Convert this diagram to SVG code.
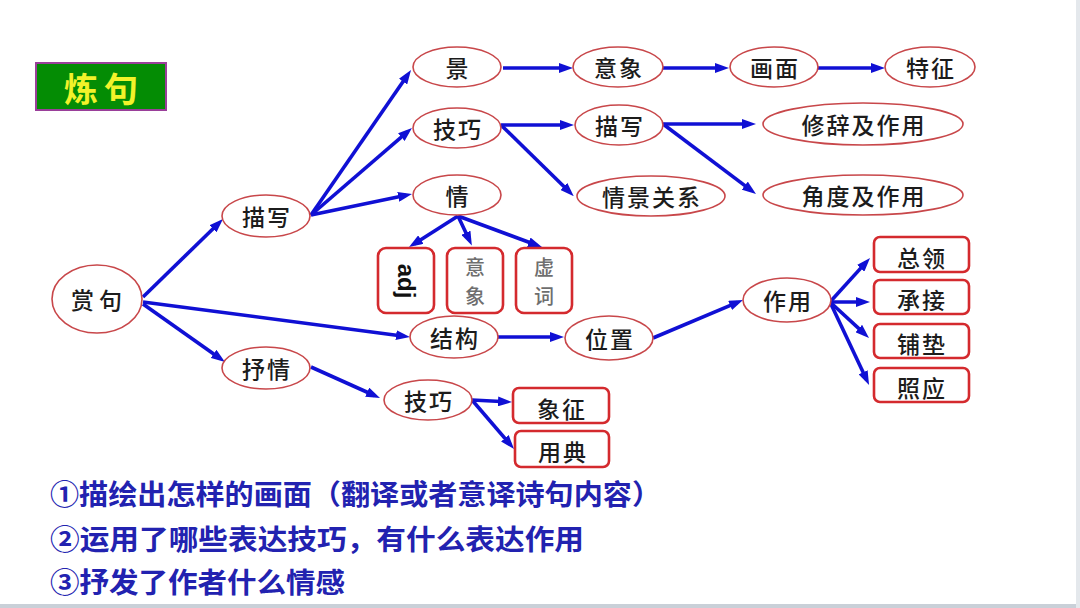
<svg xmlns="http://www.w3.org/2000/svg" width="1080" height="608" viewBox="0 0 1080 608">
<defs>
<marker id="ah" viewBox="0 0 14 10" refX="8" refY="5" markerWidth="14" markerHeight="10" markerUnits="userSpaceOnUse" orient="auto">
<path d="M0,0 L14,5 L0,10 z" fill="#1010d4"/>
</marker>
<style>
.e{fill:#fff;stroke:#c8474a;stroke-width:1.6}
.b{fill:#fff;stroke:#d42a2e;stroke-width:2.6}
.t{font-family:"Noto Sans CJK SC","Noto Sans",sans-serif;font-size:23px;fill:#1c1c1c;font-weight:500;letter-spacing:2px;text-anchor:middle;dominant-baseline:central}
.g{fill:#6e6e6e;letter-spacing:0;font-size:20px}
.c line{stroke:#1010d4;stroke-width:3.6;marker-end:url(#ah)}
.q{font-family:"Noto Sans CJK SC","Noto Sans",sans-serif;font-size:28px;font-weight:700;fill:#2222b0}
</style>
</defs>
<rect width="1080" height="608" fill="#fff"/>
<rect x="0" y="604" width="1080" height="4" fill="#c9d0d8"/>
<rect x="1076" y="0" width="4" height="608" fill="#e4e8ec"/>

<g id="title">
<rect x="36" y="63" width="130" height="47" fill="#048c04" stroke="#9a3f9a" stroke-width="2"/>
<text x="104" y="87" style="font-family:'Noto Sans CJK SC',sans-serif;font-size:34px;font-weight:700;fill:#f2f22a;letter-spacing:6px;text-anchor:middle;dominant-baseline:central">炼句</text>
</g>

<g class="c" id="connectors">
<line x1="143" y1="297" x2="218.7" y2="223.2"/>
<line x1="143" y1="302" x2="404" y2="336.2"/>
<line x1="143" y1="304" x2="220.1" y2="358.5"/>
<line x1="311" y1="215" x2="407.6" y2="75"/>
<line x1="311" y1="215" x2="407.4" y2="131.9"/>
<line x1="311" y1="215" x2="406.1" y2="195.2"/>
<line x1="503" y1="68" x2="567" y2="68"/>
<line x1="663" y1="68" x2="723" y2="68"/>
<line x1="818" y1="68" x2="879" y2="68"/>
<line x1="501" y1="125" x2="568" y2="125"/>
<line x1="501" y1="125" x2="569.5" y2="192"/>
<line x1="663" y1="124" x2="750" y2="124"/>
<line x1="663" y1="124" x2="751.2" y2="190.4"/>
<line x1="458" y1="216" x2="414.1" y2="243.9"/>
<line x1="458" y1="216" x2="469.3" y2="240"/>
<line x1="458" y1="216" x2="536.3" y2="245"/>
<line x1="498" y1="337" x2="558" y2="337"/>
<line x1="653" y1="338" x2="737.5" y2="302.3"/>
<line x1="830" y1="302" x2="866" y2="262.4"/>
<line x1="830" y1="302" x2="864" y2="302"/>
<line x1="830" y1="302" x2="864.6" y2="333.9"/>
<line x1="830" y1="302" x2="866.5" y2="379.5"/>
<line x1="311" y1="367" x2="374.5" y2="395.5"/>
<line x1="472" y1="400" x2="506" y2="401.8"/>
<line x1="472" y1="400" x2="510.1" y2="444.4"/>
</g>

<g id="n-shangju"><ellipse class="e" cx="97" cy="299" rx="45" ry="34"/><text class="t" x="99" y="299" style="letter-spacing:5px">赏句</text></g>
<g id="n-miaoxie1"><ellipse class="e" cx="266" cy="216" rx="44" ry="21"/><text class="t" x="267" y="216">描写</text></g>
<g id="n-shuqing"><ellipse class="e" cx="266" cy="368" rx="44" ry="21"/><text class="t" x="267" y="368">抒情</text></g>
<g id="n-jing"><ellipse class="e" cx="457" cy="67" rx="44" ry="20"/><text class="t" x="458" y="67">景</text></g>
<g id="n-jiqiao1"><ellipse class="e" cx="457" cy="128" rx="44" ry="20"/><text class="t" x="458" y="128">技巧</text></g>
<g id="n-qing"><ellipse class="e" cx="457" cy="195" rx="44" ry="20"/><text class="t" x="458" y="195">情</text></g>
<g id="n-yixiang"><ellipse class="e" cx="618" cy="67" rx="45" ry="20"/><text class="t" x="619" y="67">意象</text></g>
<g id="n-huamian"><ellipse class="e" cx="774" cy="67" rx="44" ry="20"/><text class="t" x="775" y="67">画面</text></g>
<g id="n-tezheng"><ellipse class="e" cx="930" cy="67" rx="45" ry="20"/><text class="t" x="931" y="67">特征</text></g>
<g id="n-miaoxie2"><ellipse class="e" cx="619" cy="125" rx="44" ry="20"/><text class="t" x="620" y="125">描写</text></g>
<g id="n-xiuci"><ellipse class="e" cx="863" cy="124" rx="100" ry="21"/><text class="t" x="864" y="124">修辞及作用</text></g>
<g id="n-qingjing"><ellipse class="e" cx="651" cy="196" rx="74" ry="20"/><text class="t" x="652" y="196">情景关系</text></g>
<g id="n-jiaodu"><ellipse class="e" cx="863" cy="195" rx="100" ry="20"/><text class="t" x="864" y="195">角度及作用</text></g>

<g id="n-adj"><rect class="b" x="378" y="248" width="56" height="65" rx="8"/><text x="406" y="281" transform="rotate(90 406 281)" style="font-family:'Liberation Sans',Arial,sans-serif;font-size:24px;font-weight:700;fill:#111;text-anchor:middle;dominant-baseline:central">adj</text></g>
<g id="n-yixiang2"><rect class="b" x="447" y="248" width="56" height="65" rx="8"/><text class="t g" x="475" y="266">意</text><text class="t g" x="475" y="295">象</text></g>
<g id="n-xuci"><rect class="b" x="516" y="248" width="56" height="65" rx="8"/><text class="t g" x="544" y="266">虚</text><text class="t g" x="544" y="295">词</text></g>

<g id="n-jiegou"><ellipse class="e" cx="454" cy="337" rx="44" ry="21"/><text class="t" x="455" y="337">结构</text></g>
<g id="n-weizhi"><ellipse class="e" cx="609" cy="338" rx="44" ry="22"/><text class="t" x="610" y="338">位置</text></g>
<g id="n-zuoyong"><ellipse class="e" cx="787" cy="300" rx="44" ry="22"/><text class="t" x="788" y="300">作用</text></g>
<g id="n-zongling"><rect class="b" x="874" y="237" width="95" height="35" rx="6"/><text class="t" x="922" y="257">总领</text></g>
<g id="n-chengjie"><rect class="b" x="874" y="280" width="95" height="34" rx="6"/><text class="t" x="922" y="299">承接</text></g>
<g id="n-pudian"><rect class="b" x="874" y="324" width="95" height="34" rx="6"/><text class="t" x="922" y="343">铺垫</text></g>
<g id="n-zhaoying"><rect class="b" x="874" y="368" width="95" height="34" rx="6"/><text class="t" x="922" y="387">照应</text></g>

<g id="n-jiqiao2"><ellipse class="e" cx="428" cy="400" rx="44" ry="20"/><text class="t" x="429" y="400">技巧</text></g>
<g id="n-xiangzheng"><rect class="b" x="513" y="388" width="96" height="35" rx="6"/><text class="t" x="562" y="408">象征</text></g>
<g id="n-yongdian"><rect class="b" x="515" y="431" width="94" height="36" rx="6"/><text class="t" x="563" y="451">用典</text></g>

<g id="notes">
<text class="q" x="50" y="505" textLength="611" lengthAdjust="spacingAndGlyphs">①描绘出怎样的画面（翻译或者意译诗句内容）</text>
<text class="q" x="50" y="550" textLength="534" lengthAdjust="spacingAndGlyphs">②运用了哪些表达技巧，有什么表达作用</text>
<text class="q" x="50" y="593" textLength="295" lengthAdjust="spacingAndGlyphs">③抒发了作者什么情感</text>
</g>
</svg>
